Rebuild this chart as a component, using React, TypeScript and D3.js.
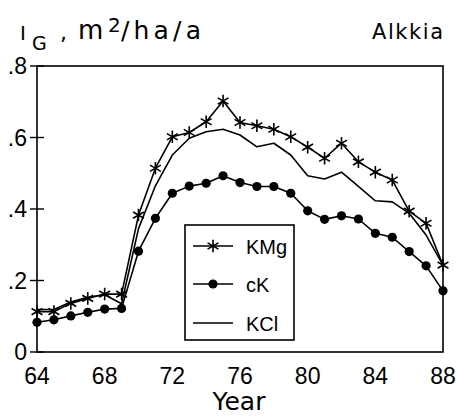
import React, { useEffect, useRef } from 'react';
import * as d3 from 'd3';

const years = d3.range(64, 89);
const kmg = [0.113, 0.113, 0.136, 0.15, 0.162, 0.162, 0.383, 0.514, 0.602, 0.614, 0.644, 0.702,
  0.642, 0.633, 0.623, 0.602, 0.573, 0.542, 0.584, 0.532, 0.503, 0.481, 0.394, 0.36, 0.243];
const ck = [0.083, 0.09, 0.101, 0.111, 0.12, 0.122, 0.282, 0.374, 0.444, 0.464, 0.472, 0.493,
  0.474, 0.463, 0.463, 0.444, 0.395, 0.371, 0.381, 0.372, 0.332, 0.321, 0.281, 0.241, 0.171];
const kcl = [0.119, 0.119, 0.14, 0.153, 0.16, 0.135, 0.345, 0.465, 0.551, 0.598, 0.616, 0.623,
  0.607, 0.574, 0.584, 0.551, 0.493, 0.484, 0.503, 0.463, 0.423, 0.42, 0.388, 0.327, 0.243];
const xTicks = [64, 68, 72, 76, 80, 84, 88];
const yTicks = [0, 0.2, 0.4, 0.6, 0.8];
const legendItems = ['KMg', 'cK', 'KCl'];

const FONT = '"Liberation Sans", Arial, sans-serif';
const WIDE = '"DejaVu Sans", sans-serif';

const App = () => {
  const svgRef = useRef(null);

  useEffect(() => {
    const svg = d3.select(svgRef.current);
    svg.selectAll('*').remove();

    const left = 37, right = 443, top = 66, bottom = 352;
    const x = d3.scaleLinear().domain([64, 88]).range([left, right]);
    const y = d3.scaleLinear().domain([0, 0.8]).range([bottom, top]);

    // frame
    svg.append('rect')
      .attr('x', left).attr('y', top)
      .attr('width', right - left).attr('height', bottom - top)
      .attr('fill', 'none').attr('stroke', '#000').attr('stroke-width', 1.6);

    // y ticks cross the axis
    svg.selectAll('.ytick')
      .data(yTicks)
      .enter()
      .append('line')
      .attr('x1', left - 7).attr('x2', left + 7)
      .attr('y1', d => y(d)).attr('y2', d => y(d))
      .attr('stroke', '#000').attr('stroke-width', 1.4);

    svg.selectAll('.ylab')
      .data(yTicks)
      .enter()
      .append('text')
      .attr('x', left - 10)
      .attr('y', d => y(d) + 8)
      .attr('text-anchor', 'end')
      .attr('font-family', FONT).attr('font-size', 23)
      .text(d => d === 0 ? '0' : d3.format('.1f')(d).replace(/^0/, ''));

    svg.selectAll('.xlab')
      .data(xTicks)
      .enter()
      .append('text')
      .attr('x', d => x(d))
      .attr('y', 384)
      .attr('text-anchor', 'middle')
      .attr('font-family', FONT).attr('font-size', 23)
      .text(d => d);

    svg.append('text')
      .attr('x', 239).attr('y', 410)
      .attr('text-anchor', 'middle')
      .attr('font-family', WIDE).attr('font-size', 25)
      .text('Year');

    // title pieces
    const t = (s, px, py, size, len = null) => {
      const el = svg.append('text')
        .attr('x', px).attr('y', py)
        .attr('font-family', WIDE).attr('font-size', size)
        .text(s);
      if (len) el.attr('textLength', len).attr('lengthAdjust', 'spacing');
      return el;
    };
    t('I', 20, 40, 20);
    t('G', 32, 50, 19);
    t(',', 60, 40, 22);
    t('m', 78, 39, 26);
    t('2', 108, 32, 20);
    t('/ha/a', 121, 39, 25, 80);
    t('Alkkia', 372, 39, 21, 71);

    const line = d3.line<number>()
      .x((d, i) => x(years[i]))
      .y(d => y(d));

    const g = svg.append('g');
    [kcl, ck, kmg].forEach(series => {
      g.append('path')
        .attr('d', line(series))
        .attr('fill', 'none')
        .attr('stroke', '#000')
        .attr('stroke-width', 1.6)
        .attr('stroke-linejoin', 'round');
    });

    const star = d3.symbol().type(d3.symbolAsterisk).size(110);
    g.selectAll('.star')
      .data(kmg)
      .enter()
      .append('path')
      .attr('d', star)
      .attr('transform', (d, i) => `translate(${x(years[i])},${y(d)})`)
      .attr('fill', 'none').attr('stroke', '#000').attr('stroke-width', 1.6);

    g.selectAll('.dot')
      .data(ck)
      .enter()
      .append('circle')
      .attr('cx', (d, i) => x(years[i]))
      .attr('cy', d => y(d))
      .attr('r', 4.6)
      .attr('fill', '#000');

    // legend
    const lg = svg.append('g');
    lg.append('rect')
      .attr('x', 185).attr('y', 225)
      .attr('width', 109).attr('height', 115)
      .attr('fill', '#fff').attr('stroke', '#000').attr('stroke-width', 1.6);
    const rowY = [246, 284, 323];
    legendItems.forEach((name, i) => {
      const ry = rowY[i];
      lg.append('line')
        .attr('x1', 193).attr('x2', 233)
        .attr('y1', ry).attr('y2', ry)
        .attr('stroke', '#000').attr('stroke-width', 1.6);
      if (i === 0) {
        lg.append('path').attr('d', star)
          .attr('transform', `translate(213,${ry})`)
          .attr('fill', 'none').attr('stroke', '#000').attr('stroke-width', 1.6);
      } else if (i === 1) {
        lg.append('circle').attr('cx', 213).attr('cy', ry).attr('r', 4.6).attr('fill', '#000');
      }
      lg.append('text')
        .attr('x', 246).attr('y', ry + 8)
        .attr('font-family', FONT).attr('font-size', 20)
        .text(name);
    });
  }, []);

  return (
    <svg ref={svgRef} width={459} height={416}
      style={{ position: 'absolute', left: 0, top: 0, background: '#fff' }} />
  );
};

export default App;
